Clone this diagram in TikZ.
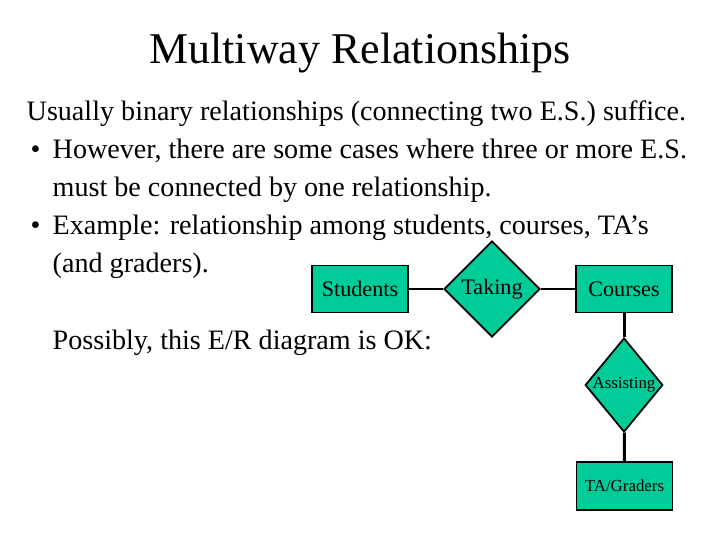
\documentclass[tikz,border=0pt]{standalone}
\usepackage{fontspec}
\setmainfont{Liberation Serif}
\usetikzlibrary{shapes.geometric,positioning}
\definecolor{ergreen}{RGB}{0,204,153}
\begin{document}
\begin{tikzpicture}[
    entity/.style={rectangle, draw, fill=ergreen, line width=0.5pt, inner sep=0pt,
      minimum width=0.96cm, minimum height=0.47cm, font=\fontsize{6.3}{7}\selectfont},
    relship/.style={diamond, draw, fill=ergreen, line width=0.5pt, inner sep=0pt,
      font=\fontsize{6.3}{7}\selectfont},
    body/.style={anchor=base west, inner sep=0pt, font=\fontsize{8}{9.6}\selectfont},
    link/.style={line width=0.85pt}]
    \useasboundingbox (0,0) rectangle (7.2,5.4);

    % Title and text
    \node (title) at (3.6,4.87) {\fontsize{12.5}{14}\selectfont Multiway Relationships};
    \node[body] (l1) at (0.26,4.19) {Usually binary relationships (connecting two E.S.) suffice.};
    \node[body] (b2) at (0.30,3.81) {\textbullet};
    \node[body] (l2) at (0.52,3.81) {However, there are some cases where three or more E.S.};
    \node[body] (l3) at (0.52,3.43) {must be connected by one relationship.};
    \node[body] (b4) at (0.30,3.05) {\textbullet};
    \node[body] (l4) at (0.52,3.05) {Example: relationship among students, courses, TA's};
    \node[body] (l5) at (0.52,2.67) {(and graders).};
    \node[body] (l6) at (0.52,1.91) {Possibly, this E/R diagram is OK:};

    % Diagram
    \node (stud) [entity] at (3.60,2.51) {Students};
    \node (take) [relship, minimum width=0.96cm, minimum height=0.96cm] at (4.92,2.51) {Taking};
    \node (course) [entity] at (6.24,2.51) {Courses};
    \node (assist) [relship, minimum width=0.76cm, minimum height=0.94cm,
      font=\fontsize{4.8}{5.5}\selectfont] at (6.24,1.55) {Assisting};
    \node (ta) [entity, minimum height=0.48cm, font=\fontsize{4.8}{5.5}\selectfont] at (6.245,0.54) {TA/Graders};

    % Links
    \draw[link] (stud) -- (take);
    \draw[link] (take) -- (course);
    \draw[link] (course) -- (assist);
    \draw[link] (assist) -- (ta);
\end{tikzpicture}
\end{document}
